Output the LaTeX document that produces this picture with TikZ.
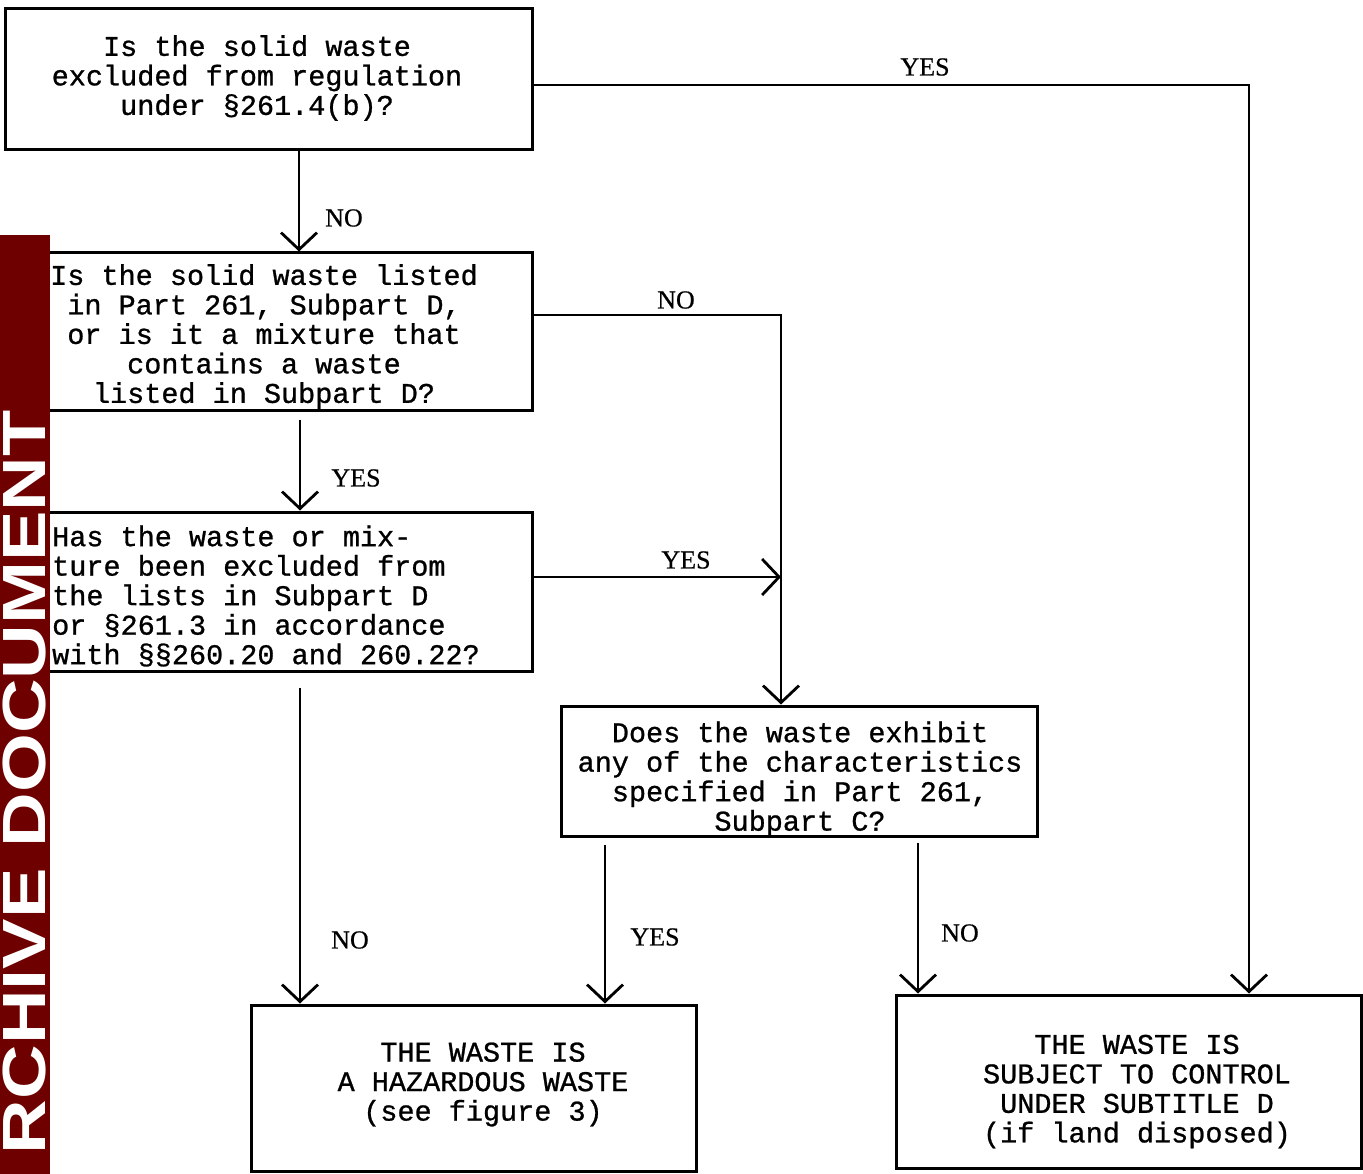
\documentclass[tikz,border=0pt]{standalone}
\usepackage{fontspec}
\setmonofont{Liberation Mono}[BoldFont={Liberation Mono},BoldFeatures={FakeBold=0.9}]
\newfontfamily\lblfont{Liberation Serif}[BoldFont={Liberation Serif},BoldFeatures={FakeBold=0.6}]
\newfontfamily\bandfont{Liberation Sans}
\usetikzlibrary{arrows.meta}
\definecolor{bandred}{RGB}{110,0,0}
\begin{document}
\begin{tikzpicture}[x=1pt,y=-1pt,
  box/.style={draw, line width=3pt, inner sep=0pt},
  txt/.style={inner sep=0pt, font=\ttfamily\bfseries\fontsize{28.5pt}{29.5pt}\selectfont, align=center},
  lbl/.style={font=\lblfont\bfseries\fontsize{26pt}{26pt}\selectfont, inner sep=0pt},
  conn/.style={line width=2.8pt},
  arr/.style={conn, -{Straight Barb[length=17pt,width=36pt,line width=2.8pt]}}]
\useasboundingbox (0,0) rectangle (1363,1174);
\fill[white] (0,0) rectangle (1363,1174);

% boxes
\node[box, minimum width=527pt, minimum height=141pt] (q1) at (268.5,79.5) {};
\node[box, minimum width=527pt, minimum height=157pt] (q2) at (268.5,331.5) {};
\node[box, minimum width=527pt, minimum height=159pt] (q3) at (268.5,591.5) {};
\node[box, minimum width=476pt, minimum height=130pt] (q4) at (799,771) {};
\node[box, minimum width=445pt, minimum height=166pt] (q5) at (473.5,1088) {};
\node[box, minimum width=465pt, minimum height=173pt] (q6) at (1128.5,1081.5) {};

% box texts
\node[txt] (t1) at (257,78) {Is the solid waste\\excluded from regulation\\under §261.4(b)?};
\node[txt] (t2) at (264,336.5) {Is the solid waste listed\\in Part 261, Subpart D,\\or is it a mixture that\\contains a waste\\listed in Subpart D?};
\node[txt, align=left, anchor=west] (t3) at (52,596) {Has the waste or mix-\\ture been excluded from\\the lists in Subpart D\\or §261.3 in accordance\\with §§260.20 and 260.22?};
\node[txt] (t4) at (800,779) {Does the waste exhibit\\any of the characteristics\\specified in Part 261,\\Subpart C?};
\node[txt] (t5) at (483,1084.5) {THE WASTE IS\\A HAZARDOUS WASTE\\(see figure 3)};
\node[txt] (t6) at (1137,1091.5) {THE WASTE IS\\SUBJECT TO CONTROL\\UNDER SUBTITLE D\\(if land disposed)};

% archive band
\fill[bandred] (0,235) rectangle (50,1174);
\node[inner sep=0pt, anchor=north, text=white, font=\bandfont\bfseries\fontsize{61pt}{61pt}\selectfont] (band) at (25,410)
  {\rotatebox{90}{\scalebox{1.24}[1]{RCHIVE DOCUMENT}}};

% helper coordinates
\coordinate (ty) at (1249,85);
\coordinate (tn) at (781,315);
\coordinate (jy) at (781,577);
\coordinate (v1) at (299,0);
\coordinate (v2) at (300,0);
\coordinate (v3) at (605,0);
\coordinate (v4) at (918,0);

% connectors
\draw[arr] (q1.south -| v1) -- (q2.north -| v1);
\draw[arr] (q1.east |- ty) -- (ty) -- (q6.north -| ty);
\draw[arr] (q2.east |- tn) -- (tn) -- (q4.north -| tn);
\draw[arr] (q3.east |- jy) -- (jy);
\draw[arr, shorten <=8pt] (q2.south -| v2) -- (q3.north -| v2);
\draw[arr, shorten <=15pt] (q3.south -| v2) -- (q5.north -| v2);
\draw[arr, shorten <=7pt] (q4.south -| v3) -- (q5.north -| v3);
\draw[arr, shorten <=5pt] (q4.south -| v4) -- (q6.north -| v4);

% labels
\node[lbl] (l1) at (344,218) {NO};
\node[lbl] (l2) at (925,67) {YES};
\node[lbl] (l3) at (676,300) {NO};
\node[lbl] (l4) at (356,478) {YES};
\node[lbl] (l5) at (686,560) {YES};
\node[lbl] (l6) at (350,940) {NO};
\node[lbl] (l7) at (655,937) {YES};
\node[lbl] (l8) at (960,933) {NO};
\end{tikzpicture}
\end{document}
